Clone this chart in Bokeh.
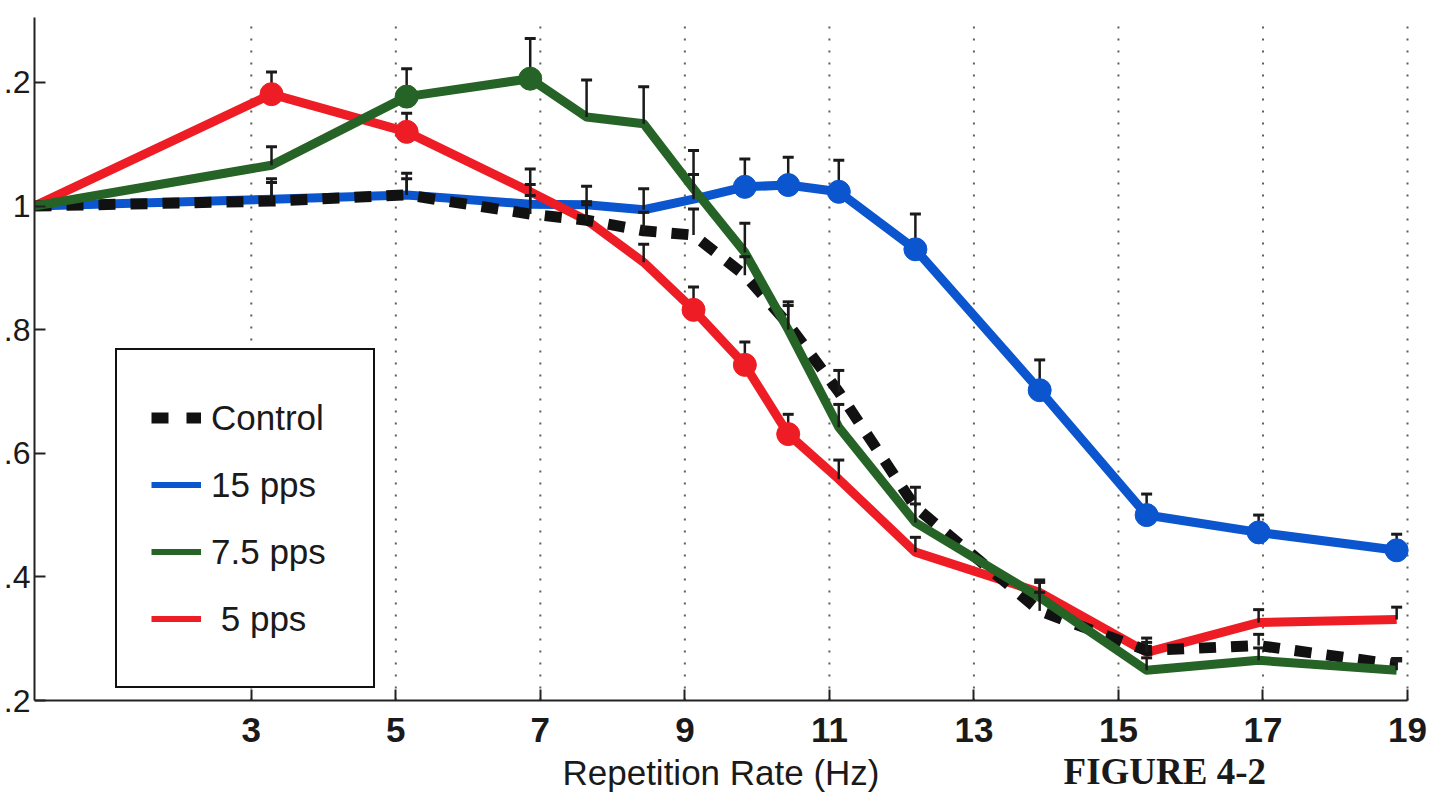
from bokeh.plotting import figure
from bokeh.models import (ColumnDataSource, Legend, LegendItem, FixedTicker, Label, Range1d)
from bokeh.embed import file_html
from bokeh.resources import INLINE

# ---------------- data ----------------
rate_hz = [0.0, 3.28, 5.15, 6.86, 7.64, 8.43, 9.12, 9.83, 10.43, 11.13, 12.19, 13.91, 15.39, 16.94, 18.85]

control = [1.0, 1.008, 1.018, 0.987, 0.977, 0.960, 0.953, 0.888, 0.809, 0.699, 0.513, 0.345, 0.281, 0.289, 0.258]
control_err = [0.0, 0.030, 0.026, 0.030, 0.025, 0.030, 0.042, 0.030, 0.030, 0.035, 0.032, 0.030, 0.020, 0.018, 0.010]

pps15 = [1.0, 1.011, 1.018, 1.003, 1.002, 0.994, 1.011, 1.031, 1.034, 1.023, 0.930, 0.702, 0.500, 0.472, 0.443]
pps15_err = [0.0, 0.033, 0.035, 0.032, 0.030, 0.034, 0.040, 0.045, 0.045, 0.051, 0.057, 0.049, 0.034, 0.028, 0.026]
pps15_sig = [0, 0, 0, 0, 0, 0, 0, 1, 1, 1, 1, 1, 1, 1, 1]

pps75 = [1.0, 1.066, 1.177, 1.206, 1.144, 1.133, 1.028, 0.925, 0.800, 0.642, 0.488, 0.367, 0.249, 0.265, 0.249]
pps75_err = [0.0, 0.030, 0.045, 0.065, 0.060, 0.060, 0.062, 0.047, 0.045, 0.037, 0.030, 0.024, 0.020, 0.020, 0.015]
pps75_sig = [0, 0, 1, 1, 0, 0, 0, 0, 0, 0, 0, 0, 0, 0, 0]

pps5 = [1.0, 1.181, 1.120, 1.023, 0.977, 0.909, 0.832, 0.743, 0.631, 0.558, 0.440, 0.375, 0.278, 0.326, 0.331]
pps5_err = [0.0, 0.036, 0.030, 0.037, 0.030, 0.029, 0.037, 0.037, 0.032, 0.031, 0.024, 0.020, 0.016, 0.021, 0.020]
pps5_sig = [0, 1, 1, 0, 0, 0, 1, 1, 1, 0, 0, 0, 0, 0, 0]

x_ticks = [3, 5, 7, 9, 11, 13, 15, 17, 19]
y_ticks = [0.2, 0.4, 0.6, 0.8, 1.0, 1.2]
y_tick_labels = [".2", ".4", ".6", ".8", "1", ".2"]

series_names = ["Control", "15 pps", "7.5 pps", " 5 pps"]
x_label = "Repetition Rate (Hz)"
fig_label = "FIGURE 4-2"

BLUE = "#0b55cf"
GREEN = "#266326"
RED = "#ee1d25"
BLACK = "#111111"
FONT = "Liberation Sans"

# axis extents (data units)
X_MIN, X_MAX = 0.0, 19.0
Y_MIN, Y_MAX = 0.2, 1.305
# the frame continues below / right of the axes so that the caption row and the
# last tick label can be drawn there
PX_PER_X = 1373 / (X_MAX - X_MIN)
PX_PER_Y = 683 / (Y_MAX - Y_MIN)
X_VIEW_MAX = X_MAX + 28 / PX_PER_X
Y_VIEW_MIN = Y_MIN - 96 / PX_PER_Y

# ---------------- figure ----------------
p = figure(frame_width=1401, frame_height=779,
           min_border_left=31, min_border_right=0, min_border_top=17, min_border_bottom=0,
           x_range=Range1d(X_MIN, X_VIEW_MAX), y_range=Range1d(Y_VIEW_MIN, Y_MAX),
           output_backend="svg", toolbar_location=None,
           background_fill_color="white", border_fill_color="white")
p.outline_line_color = None
p.xgrid.grid_line_color = None
p.ygrid.grid_line_color = None

# dotted verticals at odd rates, only over the axes' extent
grid_src = ColumnDataSource(dict(x=x_ticks, y0=[Y_MIN] * len(x_ticks), y1=[Y_MAX] * len(x_ticks)))
p.segment(x0="x", y0="y0", x1="x", y1="y1", source=grid_src, line_color="#5f6150",
          line_dash="2 10", line_width=2, level="underlay")

# axes
for ax in (p.xaxis[0], p.yaxis[0]):
    ax.axis_line_color = "#222222"
    ax.axis_line_width = 2
    ax.major_tick_line_color = "#222222"
    ax.major_tick_line_width = 2
    ax.major_tick_in = 11
    ax.major_tick_out = 0
    ax.minor_tick_line_color = None
    ax.major_label_text_color = "#1a1a1a"
    ax.major_label_text_font = FONT

p.xaxis.fixed_location = Y_MIN
p.xaxis.bounds = (X_MIN, X_MAX)
p.xaxis.ticker = FixedTicker(ticks=x_ticks)
p.xaxis.major_label_text_font_size = "35px"
p.xaxis.major_label_text_font_style = "bold"
p.xaxis.major_label_standoff = 17
p.xaxis.axis_label = x_label
p.xaxis.axis_label_text_font = FONT
p.xaxis.axis_label_text_font_size = "35px"
p.xaxis.axis_label_text_font_style = "normal"
p.xaxis.axis_label_text_color = "#1a1a1a"
p.xaxis.axis_label_standoff = 8

p.yaxis.bounds = (Y_MIN, Y_MAX)
p.yaxis.ticker = FixedTicker(ticks=y_ticks)
p.yaxis.major_label_overrides = dict(zip(y_ticks, y_tick_labels))
p.yaxis.major_label_text_font_size = "32px"
p.yaxis.major_label_standoff = 4

# ---------------- lines ----------------
src = ColumnDataSource(dict(x=rate_hz, control=control, p15=pps15, p75=pps75, p5=pps5))

p.line("x", "p15", source=src, line_color=BLUE, line_width=9, line_join="round")
p.line("x", "p5", source=src, line_color=RED, line_width=9, line_join="round")
p.line("x", "control", source=src, line_color=BLACK, line_width=11, line_dash="17 15", line_cap="butt")
p.line("x", "p75", source=src, line_color=GREEN, line_width=9, line_join="round")

# ---------------- error bars (upper only) ----------------
ex, ey0, ey1 = [], [], []
for vals, errs in ((control, control_err), (pps15, pps15_err), (pps75, pps75_err), (pps5, pps5_err)):
    for xv, v, e in zip(rate_hz, vals, errs):
        if e > 0:
            ex.append(xv)
            ey0.append(v)
            ey1.append(v + e)
err_src = ColumnDataSource(dict(x=ex, y0=ey0, y1=ey1))
p.segment(x0="x", y0="y0", x1="x", y1="y1", source=err_src, line_color="#1a1a1a", line_width=2.5)
p.scatter(x="x", y="y1", source=err_src, marker="dash", size=11, line_color="#1a1a1a", line_width=3)

# ---------------- significance markers ----------------
def marked(vals, flags):
    xs = [xv for xv, f in zip(rate_hz, flags) if f]
    ys = [v for v, f in zip(vals, flags) if f]
    return ColumnDataSource(dict(x=xs, y=ys))

p.scatter("x", "y", source=marked(pps15, pps15_sig), size=23, fill_color=BLUE, line_color=BLUE)
p.scatter("x", "y", source=marked(pps5, pps5_sig), size=23, fill_color=RED, line_color=RED)
p.scatter("x", "y", source=marked(pps75, pps75_sig), size=23, fill_color=GREEN, line_color=GREEN)

# ---------------- legend (style-only renderers, nothing plotted) ----------------
nan = float("nan")
def legend_src():
    return ColumnDataSource(dict(x=[nan], y=[nan]))

lg_ctrl = p.line("x", "y", source=legend_src(), line_color=BLACK, line_width=11, line_dash="17 18", line_cap="butt")
lg_15 = p.line("x", "y", source=legend_src(), line_color=BLUE, line_width=6)
lg_75 = p.line("x", "y", source=legend_src(), line_color=GREEN, line_width=6)
lg_5 = p.line("x", "y", source=legend_src(), line_color=RED, line_width=6)

legend = Legend(items=[LegendItem(label=series_names[0], renderers=[lg_ctrl]),
                       LegendItem(label=series_names[1], renderers=[lg_15]),
                       LegendItem(label=series_names[2], renderers=[lg_75]),
                       LegendItem(label=series_names[3], renderers=[lg_5])],
                location=(81, 108))
legend.border_line_color = "#111111"
legend.border_line_alpha = 1.0
legend.border_line_width = 2
legend.background_fill_color = "white"
legend.background_fill_alpha = 1.0
legend.padding = 34
legend.spacing = 0
legend.margin = 0
legend.label_height = 67
legend.glyph_height = 67
legend.glyph_width = 50
legend.label_standoff = 10
legend.label_width = 128
legend.label_text_font = FONT
legend.label_text_font_size = "35px"
legend.label_text_color = "#1a1a1a"
p.add_layout(legend)

# ---------------- figure caption (caption row under the axis) ----------------
p.add_layout(Label(x=14.24, y=Y_MIN - 71 / PX_PER_Y, text=fig_label,
                   text_font="Liberation Serif", text_font_style="bold", text_font_size="37px",
                   text_color="#1a1a1a", text_baseline="middle", text_align="left"))

open("out.html", "w").write(file_html(p, INLINE))
